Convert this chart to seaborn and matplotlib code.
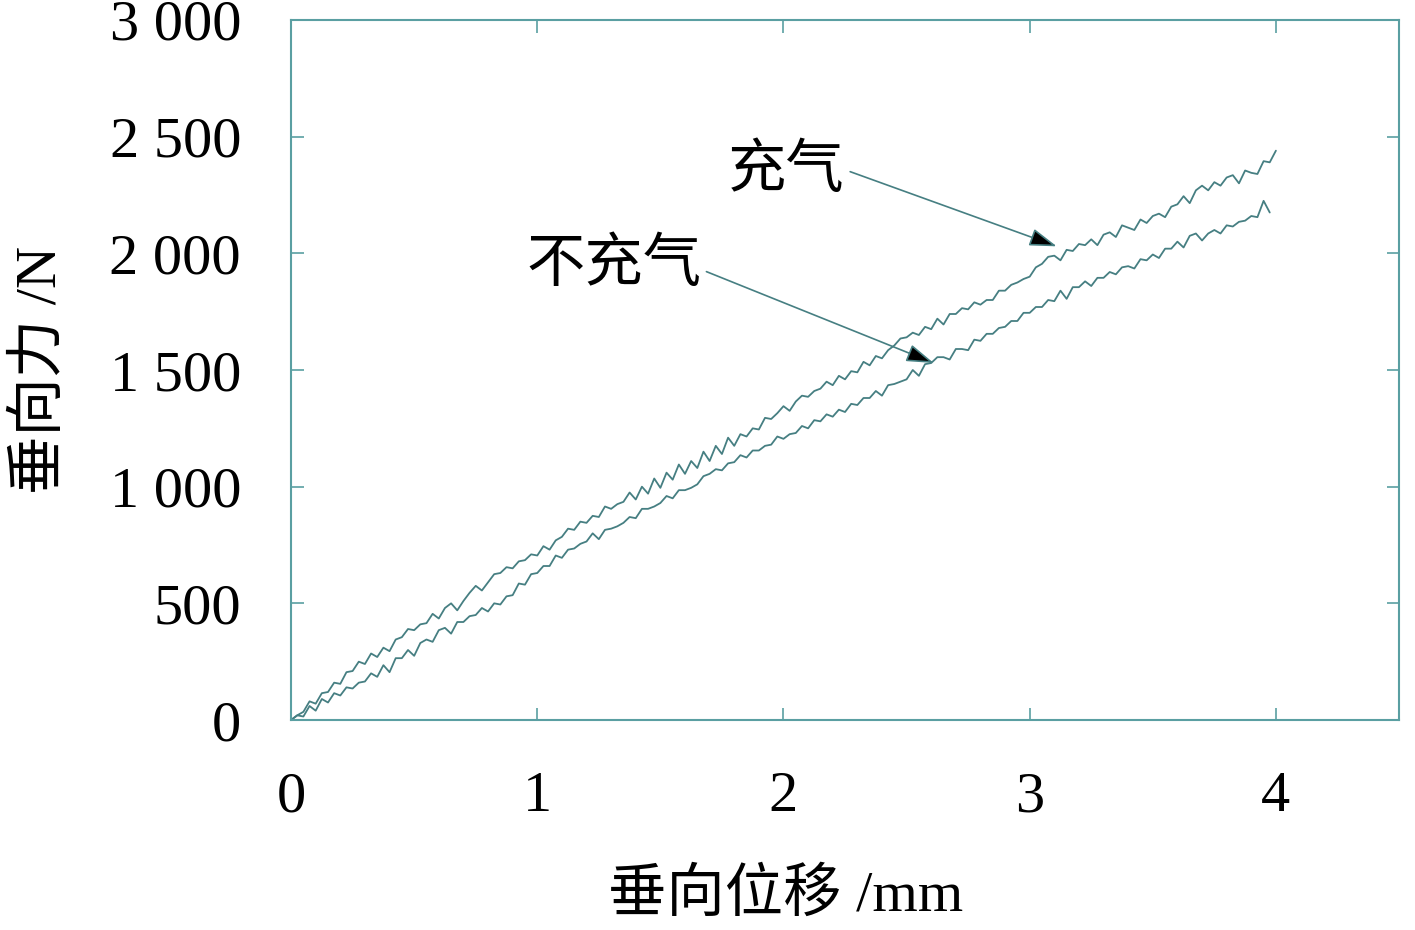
import matplotlib
matplotlib.use("Agg")
import matplotlib.pyplot as plt
import seaborn as sns
import pandas as pd

# ---------------- data ----------------
disp = [0.000, 0.025, 0.050, 0.075, 0.100, 0.125, 0.150, 0.175, 0.200, 0.225,
        0.250, 0.275, 0.300, 0.325, 0.350, 0.375, 0.400, 0.425, 0.450, 0.475,
        0.500, 0.525, 0.550, 0.575, 0.600, 0.625, 0.650, 0.675, 0.700, 0.725,
        0.750, 0.775, 0.800, 0.825, 0.850, 0.875, 0.900, 0.925, 0.950, 0.975,
        1.000, 1.025, 1.050, 1.075, 1.100, 1.125, 1.150, 1.175, 1.200, 1.225,
        1.250, 1.275, 1.300, 1.325, 1.350, 1.375, 1.400, 1.425, 1.450, 1.475,
        1.500, 1.525, 1.550, 1.575, 1.600, 1.625, 1.650, 1.675, 1.700, 1.725,
        1.750, 1.775, 1.800, 1.825, 1.850, 1.875, 1.900, 1.925, 1.950, 1.975,
        2.000, 2.025, 2.050, 2.075, 2.100, 2.125, 2.150, 2.175, 2.200, 2.225,
        2.250, 2.275, 2.300, 2.325, 2.350, 2.375, 2.400, 2.425, 2.450, 2.475,
        2.500, 2.525, 2.550, 2.575, 2.600, 2.625, 2.650, 2.675, 2.700, 2.725,
        2.750, 2.775, 2.800, 2.825, 2.850, 2.875, 2.900, 2.925, 2.950, 2.975,
        3.000, 3.025, 3.050, 3.075, 3.100, 3.125, 3.150, 3.175, 3.200, 3.225,
        3.250, 3.275, 3.300, 3.325, 3.350, 3.375, 3.400, 3.425, 3.450, 3.475,
        3.500, 3.525, 3.550, 3.575, 3.600, 3.625, 3.650, 3.675, 3.700, 3.725,
        3.750, 3.775, 3.800, 3.825, 3.850, 3.875, 3.900, 3.925, 3.950, 3.975,
        4.000]

force_inflated = [0, 20, 35, 80, 70, 115, 120, 160, 155, 205,
                  210, 250, 240, 285, 270, 310, 295, 345, 355, 390,
                  385, 410, 415, 455, 435, 480, 500, 470, 510, 545,
                  575, 555, 590, 625, 630, 655, 650, 680, 685, 710,
                  705, 745, 730, 770, 785, 820, 815, 850, 845, 875,
                  870, 915, 905, 925, 935, 975, 945, 1000, 970, 1035,
                  995, 1060, 1030, 1095, 1055, 1110, 1080, 1150, 1110, 1175,
                  1140, 1210, 1175, 1225, 1215, 1250, 1245, 1295, 1290, 1315,
                  1345, 1325, 1365, 1390, 1385, 1410, 1420, 1450, 1435, 1475,
                  1460, 1495, 1490, 1535, 1520, 1560, 1550, 1585, 1605, 1635,
                  1640, 1660, 1650, 1685, 1675, 1720, 1695, 1740, 1740, 1765,
                  1760, 1790, 1780, 1800, 1800, 1840, 1840, 1865, 1875, 1890,
                  1900, 1940, 1955, 1985, 1990, 1970, 2015, 2010, 2040, 2035,
                  2060, 2035, 2080, 2090, 2070, 2120, 2110, 2100, 2145, 2130,
                  2160, 2170, 2155, 2200, 2210, 2245, 2215, 2270, 2290, 2270,
                  2305, 2290, 2325, 2335, 2300, 2355, 2345, 2340, 2395, 2390,
                  2440]

force_not_inflated = [0, 20, 15, 60, 40, 90, 75, 115, 105, 140,
                      135, 160, 165, 200, 185, 235, 205, 265, 265, 300,
                      275, 330, 345, 335, 385, 395, 370, 420, 420, 445,
                      450, 480, 465, 500, 495, 530, 535, 585, 580, 625,
                      630, 660, 660, 705, 695, 730, 735, 755, 765, 800,
                      775, 815, 820, 830, 845, 870, 865, 905, 905, 915,
                      930, 960, 950, 985, 985, 995, 1010, 1045, 1055, 1075,
                      1070, 1100, 1105, 1135, 1125, 1155, 1155, 1175, 1180, 1215,
                      1205, 1225, 1230, 1260, 1250, 1285, 1280, 1310, 1300, 1330,
                      1320, 1355, 1350, 1380, 1380, 1410, 1390, 1435, 1440, 1450,
                      1460, 1500, 1475, 1525, 1530, 1555, 1555, 1545, 1590, 1590,
                      1585, 1630, 1625, 1655, 1655, 1680, 1685, 1710, 1710, 1745,
                      1745, 1770, 1770, 1800, 1795, 1840, 1805, 1855, 1855, 1880,
                      1860, 1895, 1895, 1920, 1910, 1940, 1945, 1935, 1975, 1970,
                      1995, 1980, 2020, 2020, 2050, 2025, 2075, 2085, 2055, 2085,
                      2100, 2085, 2120, 2115, 2135, 2140, 2160, 2155, 2225, 2175]

x_ticks = [0, 1, 2, 3, 4]
x_tick_labels = ["0", "1", "2", "3", "4"]
y_ticks = [0, 500, 1000, 1500, 2000, 2500, 3000]
y_tick_labels = ["0", "500", "1 000", "1 500", "2 000", "2 500", "3 000"]

label_inflated = "充气"
label_not_inflated = "不充气"
x_label = "垂向位移 /mm"
y_label = "垂向力 /N"

# ---------------- style ----------------
sns.set_style("ticks")
plt.rcParams["font.family"] = ["Liberation Serif", "Noto Sans CJK SC"]
plt.rcParams["axes.unicode_minus"] = False

line_col = "#467f82"
spine_col = "#5a9fa2"
fs = 42

df_up = pd.DataFrame({"x": disp, "y": force_inflated})
df_lo = pd.DataFrame({"x": disp[:len(force_not_inflated)], "y": force_not_inflated})

fig = plt.figure(figsize=(14.15, 9.3), dpi=100)
ax = fig.add_axes([0.2057, 0.2258, 0.7830, 0.7527])

sns.lineplot(data=df_up, x="x", y="y", ax=ax, color=line_col, lw=1.3,
             estimator=None, sort=False)
sns.lineplot(data=df_lo, x="x", y="y", ax=ax, color=line_col, lw=1.3,
             estimator=None, sort=False)

ax.set_xlim(0, 4.5)
ax.set_ylim(0, 3000)
ax.set_xticks(x_ticks)
ax.set_xticklabels(x_tick_labels)
ax.set_yticks(y_ticks)
ax.set_yticklabels(y_tick_labels)

for s in ax.spines.values():
    s.set_color(spine_col)
    s.set_linewidth(1.5)

ax.tick_params(axis="both", which="both", direction="in", length=9, width=1.2,
               color=spine_col, top=True, right=True, labelsize=fs,
               labelcolor="black")
ax.tick_params(axis="x", pad=37)
ax.tick_params(axis="y", pad=36)

ax.set_xlabel(x_label, fontsize=fs, color="black", labelpad=32, x=0.446)
ax.set_ylabel(y_label, fontsize=fs, color="black", labelpad=30)

arrow_kw = dict(arrowstyle="-|>,head_length=0.4,head_width=0.13",
                edgecolor=line_col, facecolor="black", lw=1.2,
                shrinkA=0, shrinkB=0)
ax.annotate(label_inflated, xy=(3.11, 2030), xytext=(2.01, 2350),
            fontsize=fs, ha="center", va="center", color="black",
            arrowprops=dict(arrow_kw, relpos=(1.05, 0.5)))
ax.annotate(label_not_inflated, xy=(2.61, 1530), xytext=(1.31, 1945),
            fontsize=fs, ha="center", va="center", color="black",
            arrowprops=dict(arrow_kw, relpos=(1.03, 0.4)))

fig.savefig("out.png", dpi=100, facecolor="white")
